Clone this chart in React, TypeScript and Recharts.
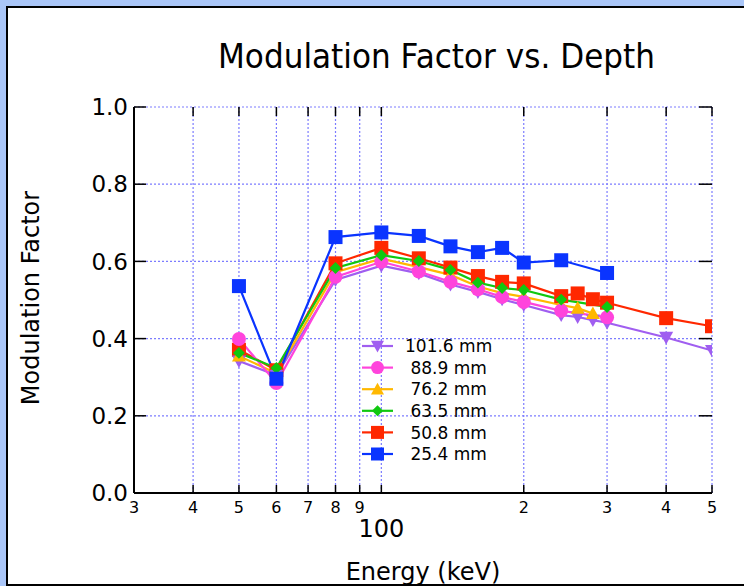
import { CartesianGrid, Line, LineChart, XAxis, YAxis } from "recharts";

const FONT = "'DejaVu Sans', Verdana, sans-serif";

// plot frame (margins of the chart)
const PLOT_TOP = 107;
const PLOT_LEFT = 134;
const PLOT_RIGHT = 712;

// axis ticks
const xTicks = [30, 40, 50, 60, 70, 80, 90, 100, 200, 300, 400, 500];
const yTicks = [0, 0.2, 0.4, 0.6, 0.8, 1.0];

// energies (keV) measured for each depth
const eFull = [50, 60, 80, 100, 120, 140, 160, 180, 200, 240, 260, 280, 300, 400, 500];
const eTo300 = [50, 60, 80, 100, 120, 140, 160, 180, 200, 240, 300];
const eTo280 = [50, 60, 80, 100, 120, 140, 160, 180, 200, 240, 260, 280];

// modulation factor per depth
const mf1016 = [0.342, 0.305, 0.552, 0.589, 0.569, 0.54, 0.521, 0.502, 0.487, 0.461, 0.456, 0.448, 0.441, 0.403, 0.369];
const mf889 = [0.399, 0.285, 0.56, 0.599, 0.574, 0.547, 0.528, 0.508, 0.495, 0.472, 0.455];
const mf762 = [0.355, 0.31, 0.572, 0.607, 0.585, 0.565, 0.535, 0.518, 0.508, 0.487, 0.479, 0.465];
const mf635 = [0.363, 0.324, 0.583, 0.616, 0.601, 0.578, 0.545, 0.531, 0.526, 0.501, 0.482];
const mf508 = [0.371, 0.318, 0.595, 0.635, 0.608, 0.584, 0.562, 0.547, 0.543, 0.51, 0.517, 0.502, 0.493, 0.453, 0.432];
const mf254 = [0.536, 0.296, 0.663, 0.675, 0.666, 0.639, 0.624, 0.635, 0.597, 0.603, 0.57];

type Shape = "square" | "circle" | "triUp" | "triDown" | "diamond";

const toRows = (e: number[], v: number[]) => e.map((energy, i) => ({ energy, mf: v[i] }));

// legend order
const series = [
  { id: "d1016", label: "101.6 mm", color: "#a05ef0", shape: "triDown" as Shape, rows: toRows(eFull, mf1016) },
  { id: "d889", label: " 88.9 mm", color: "#ff44dc", shape: "circle" as Shape, rows: toRows(eTo300, mf889) },
  { id: "d762", label: " 76.2 mm", color: "#ffb800", shape: "triUp" as Shape, rows: toRows(eTo280, mf762) },
  { id: "d635", label: " 63.5 mm", color: "#10c810", shape: "diamond" as Shape, rows: toRows(eTo300, mf635) },
  { id: "d508", label: " 50.8 mm", color: "#ff2800", shape: "square" as Shape, rows: toRows(eFull, mf508) },
  { id: "d254", label: " 25.4 mm", color: "#0a34ff", shape: "square" as Shape, rows: toRows(eTo300, mf254) },
];

// paint order on the plot
const drawOrder = ["d508", "d1016", "d762", "d889", "d635", "d254"];

function Marker({ cx, cy, shape, color, size = 14 }: { cx: number; cy: number; shape: Shape; color: string; size?: number }) {
  const h = size / 2;
  switch (shape) {
    case "square":
      return <rect x={cx - h} y={cy - h} width={size} height={size} fill={color} />;
    case "circle":
      return <circle cx={cx} cy={cy} r={h} fill={color} />;
    case "triUp":
      return <polygon points={`${cx},${cy - h} ${cx + h},${cy + h * 0.8} ${cx - h},${cy + h * 0.8}`} fill={color} />;
    case "triDown":
      return <polygon points={`${cx},${cy + h} ${cx + h},${cy - h * 0.8} ${cx - h},${cy - h * 0.8}`} fill={color} />;
    default:
      return <polygon points={`${cx},${cy - h * 0.85} ${cx + h * 0.85},${cy} ${cx},${cy + h * 0.85} ${cx - h * 0.85},${cy}`} fill={color} />;
  }
}

// bottom labels + inward ticks on bottom and top edges
function BottomTick(props: any) {
  const { x, y, payload } = props;
  const v = payload.value as number;
  return (
    <g>
      <line x1={x} x2={x} y1={y} y2={y - 8} stroke="#000" strokeWidth={1.5} />
      <line x1={x} x2={x} y1={PLOT_TOP} y2={PLOT_TOP + 9} stroke="#000" strokeWidth={1.5} />
      {v === 100 ? (
        <text x={x} y={y + 44} textAnchor="middle" fontSize={24} fontFamily={FONT} fill="#000">100</text>
      ) : (
        <text x={x} y={y + 20} textAnchor="middle" fontSize={16} fontFamily={FONT} fill="#000">{String(v)[0]}</text>
      )}
    </g>
  );
}

// left labels + inward ticks on left and right edges
function LeftTick(props: any) {
  const { x, y, payload } = props;
  return (
    <g>
      <line x1={x} x2={x + 12} y1={y} y2={y} stroke="#000" strokeWidth={1.5} />
      <line x1={PLOT_RIGHT - 13} x2={PLOT_RIGHT} y1={y} y2={y} stroke="#000" strokeWidth={1.5} />
      <text x={x - 6} y={y} dy="0.36em" textAnchor="end" fontSize={23} fontFamily={FONT} fill="#000">
        {(payload.value as number).toFixed(1)}
      </text>
    </g>
  );
}

const axisLine = { stroke: "#000", strokeWidth: 2 };

export default function App() {
  return (
    <div style={{ position: "absolute", left: 0, top: 0, width: 744, height: 586, overflow: "hidden", background: "#aac6f8" }}>
      <div
        style={{
          position: "absolute",
          left: 6,
          top: 6,
          width: 800,
          height: 576,
          border: "2px solid #000",
          background: "#fff",
        }}
      />
      <div style={{ position: "absolute", left: 0, top: 0 }}>
        <LineChart width={744} height={586} margin={{ top: PLOT_TOP, right: 744 - PLOT_RIGHT, bottom: 0, left: 0 }}>
          <CartesianGrid stroke="#7c7cff" strokeDasharray="2 2" strokeWidth={1.2} />
          <XAxis
            dataKey="energy"
            type="number"
            scale="log"
            domain={[30, 500]}
            allowDataOverflow
            ticks={xTicks}
            interval={0}
            height={93}
            tickSize={0}
            tickMargin={0}
            tickLine={false}
            axisLine={axisLine}
            tick={BottomTick}
          />
          <XAxis
            xAxisId="top"
            orientation="top"
            dataKey="energy"
            type="number"
            scale="log"
            domain={[30, 500]}
            allowDataOverflow
            height={0}
            tick={false}
            tickLine={false}
            axisLine={axisLine}
          />
          <YAxis
            type="number"
            domain={[0, 1]}
            ticks={yTicks}
            interval={0}
            width={PLOT_LEFT}
            tickSize={0}
            tickMargin={0}
            tickLine={false}
            axisLine={axisLine}
            tick={LeftTick}
          />
          <YAxis
            yAxisId="right"
            orientation="right"
            type="number"
            domain={[0, 1]}
            allowDataOverflow
            width={0}
            tick={false}
            tickLine={false}
            axisLine={axisLine}
          />
          {drawOrder.map((id) => {
            const s = series.find((d) => d.id === id)!;
            return (
              <Line
                key={s.id}
                data={s.rows}
                dataKey="mf"
                type="linear"
                stroke={s.color}
                strokeWidth={2.2}
                isAnimationActive={false}
                activeDot={false}
                dot={(p: any) => <Marker key={`${s.id}-${p.index}`} cx={p.cx} cy={p.cy} shape={s.shape} color={s.color} />}
              />
            );
          })}
        </LineChart>
      </div>
      <svg width={744} height={586} style={{ position: "absolute", left: 0, top: 0, pointerEvents: "none" }} fontFamily={FONT}>
        <text x={436.5} y={68} textAnchor="middle" fontSize={34} textLength={437} lengthAdjust="spacingAndGlyphs" fill="#000">
          Modulation Factor vs. Depth
        </text>
        <text x={39} y={298} transform="rotate(-90 39 298)" textAnchor="middle" fontSize={24} fill="#000">
          Modulation Factor
        </text>
        <text x={423} y={580} textAnchor="middle" fontSize={24} fill="#000">
          Energy (keV)
        </text>
        {series.map((s, i) => {
          const y = 346 + i * 21.6;
          return (
            <g key={s.id}>
              <line x1={362} x2={393} y1={y} y2={y} stroke={s.color} strokeWidth={2.2} />
              <Marker cx={377.5} cy={y} shape={s.shape} color={s.color} size={13} />
              <text x={405} y={y} dy="0.36em" fontSize={17} fill="#000" style={{ whiteSpace: "pre" }}>
                {s.label}
              </text>
            </g>
          );
        })}
      </svg>
    </div>
  );
}
